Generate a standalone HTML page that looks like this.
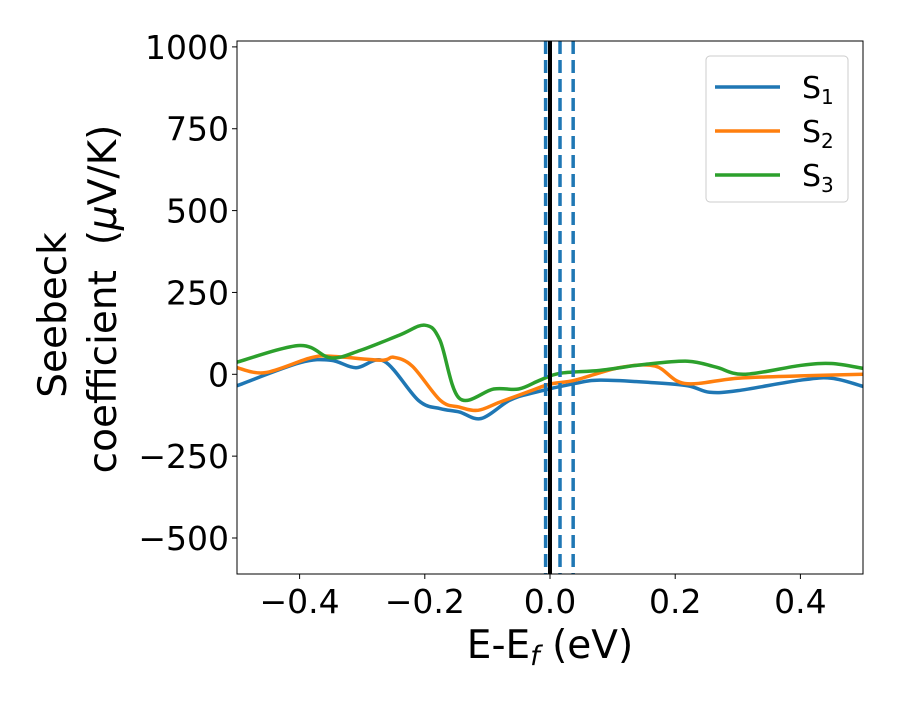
<!DOCTYPE html>
<html><head><meta charset="utf-8"><style>
body{margin:0;background:#fff}
svg text{font-family:"DejaVu Sans","Liberation Sans",sans-serif}
</style></head><body>
<svg id="c" width="900" height="700"></svg>
<script>
const xTicks=[-0.4,-0.2,0.0,0.2,0.4];
const xTickLabels=["\u22120.4","\u22120.2","0.0","0.2","0.4"];
const yTicks=[1000,750,500,250,0,-250,-500];
const yTickLabels=["1000","750","500","250","0","\u2212250","\u2212500"];
const s1X=[-0.5,-0.4,-0.35,-0.31,-0.265,-0.21,-0.175,-0.145,-0.11,-0.065,-0.03,0.04,0.08,0.16,0.22,0.255,0.3,0.4,0.45,0.5];
const s1Y=[-35,35,43,20,40,-80,-105,-115,-135,-80,-58,-28,-18,-25,-35,-55,-50,-18,-12,-37];
const s2X=[-0.5,-0.455,-0.383,-0.35,-0.27,-0.25,-0.22,-0.175,-0.145,-0.115,-0.08,-0.03,0,0.04,0.11,0.168,0.215,0.3,0.4,0.5];
const s2Y=[20,5,50,55,43,52,25,-80,-100,-110,-85,-50,-30,-18,20,25,-28,-12,-5,0];
const s3X=[-0.5,-0.4,-0.35,-0.303,-0.24,-0.2,-0.176,-0.145,-0.09,-0.05,-0.016,0.016,0.08,0.15,0.22,0.265,0.31,0.4,0.45,0.5];
const s3Y=[37,88,50,73,120,150,105,-73,-45,-45,-18,3,12,30,40,22,0,27,33,18];
const vDashed=[-0.007,0.016,0.037];
const vSolid=[0];
const names=["1","2","3"];
const colors=["#1f77b4","#ff7f0e","#2ca02c"];
const X0=237,X1=863,Y0=41,Y1=574,xmin=-0.5,xmax=0.5,ymin=-610,ymax=1018;
const sx=v=>X0+(v-xmin)/(xmax-xmin)*(X1-X0);
const sy=v=>Y1-(v-ymin)/(ymax-ymin)*(Y1-Y0);
const svg=document.getElementById('c');const NS="http://www.w3.org/2000/svg";
function mk(t,a,p){const e=document.createElementNS(NS,t);for(const k in a)e.setAttribute(k,a[k]);(p||svg).appendChild(e);return e;}
const clip=mk('clipPath',{id:'cl'});mk('rect',{x:X0,y:Y0,width:X1-X0,height:Y1-Y0},clip);
function path(xs,ys){const p=xs.map((x,i)=>[sx(x),sy(ys[i])]);let d=`M${p[0][0]},${p[0][1]}`;
for(let i=0;i<p.length-1;i++){const a=p[i-1]||p[i],b=p[i],c=p[i+1],e=p[i+2]||c;
d+=` C${b[0]+(c[0]-a[0])/6},${b[1]+(c[1]-a[1])/6} ${c[0]-(e[0]-b[0])/6},${c[1]-(e[1]-b[1])/6} ${c[0]},${c[1]}`;}return d;}
const g=mk('g',{'clip-path':'url(#cl)'});
[[s1X,s1Y],[s2X,s2Y],[s3X,s3Y]].forEach((s,i)=>{const e=mk('path',{d:path(s[0],s[1]),fill:'none',stroke:colors[i],'stroke-width':3.5},g);
});
vSolid.forEach(v=>{const e=mk('line',{x1:sx(v),x2:sx(v),y1:Y0,y2:Y1,stroke:'#000','stroke-width':4},g);
});
vDashed.forEach(v=>{const e=mk('line',{x1:sx(v),x2:sx(v),y1:Y0,y2:Y1,stroke:'#1f77b4','stroke-width':3.5,'stroke-dasharray':'13 6'},g);
});
const fr=mk('rect',{x:X0,y:Y0,width:X1-X0,height:Y1-Y0,fill:'none',stroke:'#000','stroke-width':1});

xTicks.forEach((v,i)=>{mk('line',{x1:sx(v),x2:sx(v),y1:Y1,y2:Y1+5,stroke:'#000'});
const t=mk('text',{x:sx(v),y:Y1+39,'font-size':33,'text-anchor':'middle'});t.textContent=xTickLabels[i];
});
yTicks.forEach((v,i)=>{mk('line',{x1:X0-5,x2:X0,y1:sy(v),y2:sy(v),stroke:'#000'});
const t=mk('text',{x:X0-8,y:sy(v)+12,'font-size':33,'text-anchor':'end'});t.textContent=yTickLabels[i];
});
const xl=mk('text',{x:550,y:658,'font-size':39,'text-anchor':'middle'});xl.innerHTML='E-E<tspan font-size="27" dy="7" font-style="italic">f</tspan><tspan dy="-7"> (eV)</tspan>';

const yl=mk('text',{transform:'translate(66,315) rotate(-90)','font-size':39,'text-anchor':'middle'});yl.textContent='Seebeck';

const yl2=mk('text',{transform:'translate(116,299) rotate(-90)','font-size':39,'text-anchor':'middle'});yl2.innerHTML='coefficient\u00a0 (<tspan font-style="italic">μ</tspan>V/K)';

const lg=mk('g',{});
mk('rect',{x:706,y:56,width:142,height:146,rx:4,fill:'#fff',stroke:'#ccc'},lg);
names.forEach((n,i)=>{const y=87+i*44;mk('line',{x1:715,x2:780,y1:y,y2:y,stroke:colors[i],'stroke-width':3.5},lg);
const t=mk('text',{x:802,y:y+11,'font-size':30},lg);t.innerHTML='S<tspan font-size="20" dy="6">'+n+'</tspan>';
});
</script></body></html>
